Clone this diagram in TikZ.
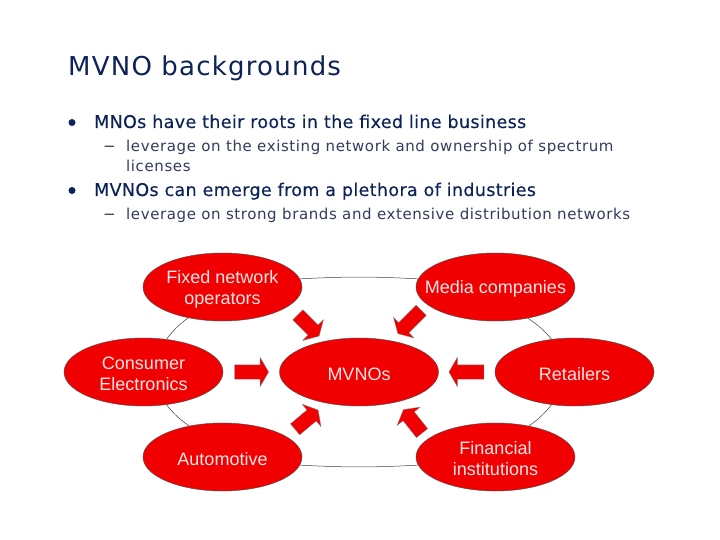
\documentclass[tikz,border=0pt]{standalone}
\usepackage{fontspec}
\setmainfont{DejaVu Sans}
\newfontfamily\arialf{Liberation Sans}
\newfontfamily\ttlf[LetterSpace=4.7]{DejaVu Sans}
\newfontfamily\lvlaf[LetterSpace=2.0,FakeBold=0.25]{DejaVu Sans}
\newfontfamily\lvlbf[LetterSpace=4.0]{DejaVu Sans}
\usetikzlibrary{shapes.geometric,shapes.arrows}
\definecolor{navy}{RGB}{12,35,90}
\definecolor{subc}{RGB}{50,60,95}
\definecolor{redf}{RGB}{240,0,0}
\newcommand\blobtext[1]{\makebox[0pt][c]{\raisebox{-6.3pt}[0pt][0pt]{\parbox[c]{150pt}{\centering #1}}}}
\tikzset{x=1pt,y=-1pt,
 blob/.style={ellipse,draw=black!70,line width=0.4pt,fill=redf,minimum width=159pt,minimum height=68pt,inner sep=0pt,text=white!90!red,font=\arialf\fontsize{18}{21}\selectfont},
 pfeil/.style={single arrow,draw=black!50,line width=0.3pt,fill=redf,minimum width=28pt,minimum height=34pt,single arrow head extend=7.5pt,single arrow head indent=0pt,single arrow tip angle=120,inner xsep=0pt,inner ysep=7pt},
 link/.style={draw=black!75,line width=0.5pt},
 ttl/.style={anchor=base west,inner sep=0pt,text=navy,font=\ttlf\fontsize{26}{30}\selectfont},
 lvla/.style={anchor=base west,inner sep=0pt,text=navy,font=\lvlaf\fontsize{17.5}{20}\selectfont},
 lvlb/.style={anchor=base west,inner sep=0pt,text=subc,font=\lvlbf\fontsize{15}{18}\selectfont},
 dot/.style={circle,fill=navy,minimum size=7pt,inner sep=0pt}
}
\begin{document}
\begin{tikzpicture}
\useasboundingbox (0,0) rectangle (720,540);
\fill[white] (0,0) rectangle (720,540);
\node[ttl] (title) at (68,76) {MVNO backgrounds};
\node[dot] (d1) at (72,122.5) {};
\node[lvla] (t1) at (94,128) {MNOs have their roots in the fixed line business};
\node[lvlb] (t2) at (103,152) {−};
\node[lvlb] (t3) at (126,152) {leverage on the existing network and ownership of spectrum};
\node[lvlb] (t4) at (126,172) {licenses};
\node[dot] (d2) at (72,190.5) {};
\node[lvla] (t5) at (94,196) {MVNOs can emerge from a plethora of industries};
\node[lvlb] (t6) at (103,220) {−};
\node[lvlb] (t7) at (126,220) {leverage on strong brands and extensive distribution networks};
\node[blob] (fix) at (222.5,287) {\blobtext{Fixed network\\operators}};
\node[blob] (med) at (495.5,287) {\blobtext{Media companies}};
\node[blob] (con) at (143.5,372) {\blobtext{Consumer\\Electronics}};
\node[blob] (mv) at (359,372) {\blobtext{MVNOs}};
\node[blob] (ret) at (574.5,372) {\blobtext{Retailers}};
\node[blob] (aut) at (222.5,457) {\blobtext{Automotive}};
\node[blob] (fin) at (495.5,457) {\blobtext{Financial\\institutions}};
\draw[link] (fix.6) to[bend left=3] (med.174);
\draw[link] (aut.-6) to[bend right=3] (fin.186);
\draw[link] (fix.222) to[bend right=8] (con.55);
\draw[link] (con.-55) to[bend right=8] (aut.137);
\draw[link] (med.-44) to[bend left=8] (ret.125);
\draw[link] (ret.-125) to[bend left=8] (fin.43);
\node[pfeil,minimum height=30pt] (a1) at (307,324) [rotate=-45] {};
\node[pfeil,minimum height=33pt] (a2) at (411,320.5) [rotate=225] {};
\node[pfeil] (a3) at (249.5,372) {};
\node[pfeil,rotate=180,minimum height=35pt] (a4) at (468.5,372) {};
\node[pfeil,minimum height=30pt,minimum width=25pt] (a5) at (305,421) [rotate=40] {};
\node[pfeil,minimum height=30pt,minimum width=25pt] (a6) at (414,423) [rotate=128.5] {};
\end{tikzpicture}
\end{document}
